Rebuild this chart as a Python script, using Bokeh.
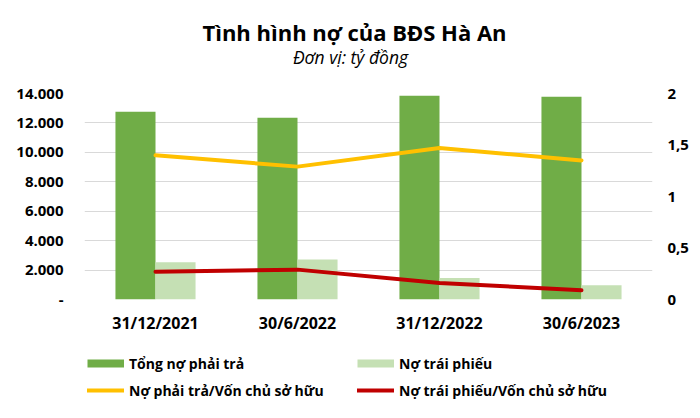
from bokeh.plotting import figure
from bokeh.models import (ColumnDataSource, FactorRange, Range1d, LinearAxis, FixedTicker,
                          Legend, LegendItem)
from bokeh.layouts import column
from bokeh.core.properties import value
from bokeh.transform import dodge
from bokeh.embed import file_html
from bokeh.resources import INLINE

# ---- data ----
categories = ["31/12/2021", "30/6/2022", "31/12/2022", "30/6/2023"]
tong_no = [12760, 12350, 13850, 13780]          # Tổng nợ phải trả (tỷ đồng)
no_trai_phieu = [2530, 2720, 1460, 960]         # Nợ trái phiếu (tỷ đồng)
no_pt_vcsh = [1.40, 1.29, 1.47, 1.35]           # Nợ phải trả/Vốn chủ sở hữu
no_tp_vcsh = [0.27, 0.29, 0.16, 0.09]           # Nợ trái phiếu/Vốn chủ sở hữu

left_ticks = [0, 2000, 4000, 6000, 8000, 10000, 12000, 14000]
left_tick_labels = ["-", "2.000", "4.000", "6.000", "8.000", "10.000", "12.000", "14.000"]
right_ticks = [0, 0.5, 1, 1.5, 2]
right_tick_labels = ["0", "0,5", "1", "1,5", "2"]

title_text = "Tình hình nợ của BĐS Hà An"
subtitle_text = "Đơn vị: tỷ đồng"
legend_labels = ["Tổng nợ phải trả", "Nợ trái phiếu",
                 "Nợ phải trả/Vốn chủ sở hữu", "Nợ trái phiếu/Vốn chủ sở hữu"]

# ---- styles ----
FONT = "Open Sans"
C_DARK = "#70AD47"
C_LIGHT = "#C5E0B4"
C_YELLOW = "#FFC000"
C_RED = "#C00000"
GRID = "#D9D9D9"
W = 696
H_TOP, H_MAIN, H_LEG = 78, 258, 78
F_LEFT, F_RIGHT = 84, 652


def bare(fig):
    fig.outline_line_color = None
    fig.grid.visible = False
    fig.background_fill_color = "white"
    fig.border_fill_color = "white"
    return fig


# ---- title block ----
pt = bare(figure(width=W, height=H_TOP, x_range=Range1d(F_LEFT, F_RIGHT),
                 y_range=Range1d(H_TOP, 0), x_axis_location=None, y_axis_location=None,
                 min_border_left=F_LEFT, min_border_right=W - F_RIGHT, min_border_top=0,
                 min_border_bottom=0, output_backend="svg", toolbar_location=None))
pt.text(x=[354], y=[31], text=[title_text], text_font=value(FONT),
        text_font_style="bold", text_font_size="22px", text_color="#000000",
        text_align="center", text_baseline="middle")
pt.text(x=[350], y=[56], text=[subtitle_text], text_font=value(FONT),
        text_font_style="italic", text_font_size="17.5px", text_color="#000000",
        text_align="center", text_baseline="middle")

# ---- main chart ----
src = ColumnDataSource(dict(cat=categories, tong=tong_no, tp=no_trai_phieu,
                            r1=no_pt_vcsh, r2=no_tp_vcsh))

p = figure(width=W, height=H_MAIN, x_range=FactorRange(factors=categories),
           y_range=Range1d(0, 14000), output_backend="svg", toolbar_location=None,
           title_location=None, min_border_left=F_LEFT, min_border_right=W - F_RIGHT,
           min_border_top=93 - H_TOP, min_border_bottom=H_TOP + H_MAIN - 300)
p.extra_y_ranges = {"ratio": Range1d(0, 2)}
p.outline_line_color = None
p.background_fill_color = "white"
p.border_fill_color = "white"

bw = 0.282
b1 = p.vbar(x=dodge("cat", -bw / 2, range=p.x_range), top="tong", width=bw, source=src,
            fill_color=C_DARK, line_color=None)
b2 = p.vbar(x=dodge("cat", bw / 2, range=p.x_range), top="tp", width=bw, source=src,
            fill_color=C_LIGHT, line_color=None)
l1 = p.line(x="cat", y="r1", source=src, y_range_name="ratio", line_color=C_YELLOW,
            line_width=4, line_cap="round", line_join="round")
l2 = p.line(x="cat", y="r2", source=src, y_range_name="ratio", line_color=C_RED,
            line_width=4, line_cap="round", line_join="round")

p.xgrid.visible = False
p.ygrid.grid_line_color = GRID
p.ygrid.grid_line_width = 1
p.ygrid.ticker = FixedTicker(ticks=left_ticks)


def style_axis(ax, size="15px"):
    ax.axis_line_color = None
    ax.major_tick_line_color = None
    ax.minor_tick_line_color = None
    ax.major_tick_out = 0
    ax.minor_tick_out = 0
    ax.major_label_text_font = FONT
    ax.major_label_text_font_style = "bold"
    ax.major_label_text_font_size = size
    ax.major_label_text_color = "#000000"


yl = p.yaxis[0]
yl.ticker = FixedTicker(ticks=left_ticks)
yl.major_label_overrides = dict(zip(left_ticks, left_tick_labels))
style_axis(yl)
yl.major_label_standoff = 21

yr = LinearAxis(y_range_name="ratio", ticker=FixedTicker(ticks=right_ticks))
yr.major_label_overrides = dict(zip(right_ticks, right_tick_labels))
style_axis(yr)
yr.major_label_standoff = 15
p.add_layout(yr, "right")

xa = p.xaxis[0]
style_axis(xa, "16px")
xa.major_label_standoff = 12

# ---- legend block (swatch renderers use the same data, kept outside the view) ----
pl = bare(figure(width=W, height=H_LEG, x_range=FactorRange(factors=categories),
                 y_range=Range1d(-2, -1), x_axis_location=None, y_axis_location=None,
                 min_border_left=F_LEFT, min_border_right=W - F_RIGHT, min_border_top=0,
                 min_border_bottom=0, output_backend="svg", toolbar_location=None))
s1 = pl.line(x="cat", y="tong", source=src, line_color=C_DARK, line_width=8)
s2 = pl.line(x="cat", y="tp", source=src, line_color=C_LIGHT, line_width=8)
s3 = pl.line(x="cat", y="r1", source=src, line_color=C_YELLOW, line_width=4, line_cap="round")
s4 = pl.line(x="cat", y="r2", source=src, line_color=C_RED, line_width=4, line_cap="round")

leg_style = dict(orientation="vertical", padding=0, margin=0, spacing=7,
                 border_line_color=None, background_fill_alpha=0, glyph_width=37,
                 glyph_height=20, label_height=20, label_standoff=5, label_text_font=FONT,
                 label_text_font_style="bold", label_text_font_size="14px",
                 label_text_color="#000000")
leg_a = Legend(items=[LegendItem(label=legend_labels[0], renderers=[s1]),
                      LegendItem(label=legend_labels[2], renderers=[s3])],
               location=(87 - F_LEFT, 14), **leg_style)
leg_b = Legend(items=[LegendItem(label=legend_labels[1], renderers=[s2]),
                      LegendItem(label=legend_labels[3], renderers=[s4])],
               location=(357 - F_LEFT, 14), **leg_style)
pl.add_layout(leg_a, "center")
pl.add_layout(leg_b, "center")

layout = column(pt, p, pl, spacing=0)
open("out.html", "w").write(file_html(layout, INLINE))
